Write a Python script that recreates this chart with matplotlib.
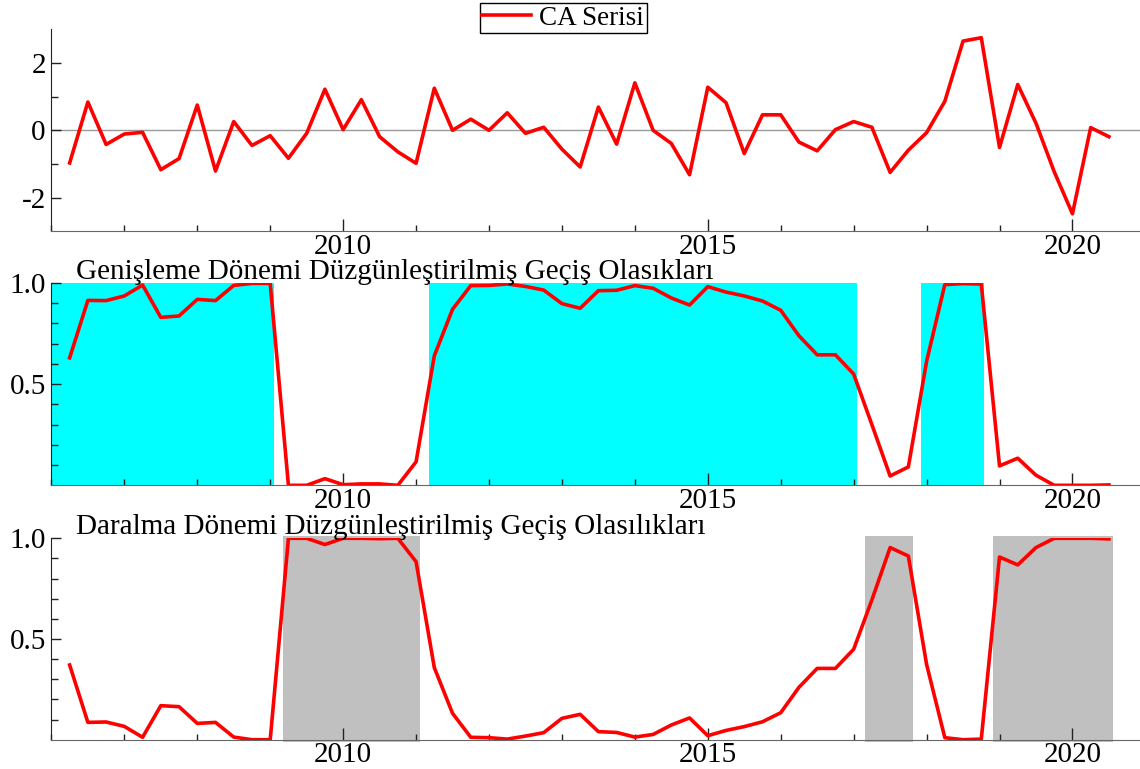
import numpy as np
import matplotlib
matplotlib.use("Agg")
import matplotlib.pyplot as plt
from matplotlib.ticker import MultipleLocator, FixedLocator

plt.rcParams['font.family'] = ['Liberation Serif', 'DejaVu Serif']
plt.rcParams['axes.unicode_minus'] = False

# quarterly dates 2006Q2 .. 2020Q3
dates = 2006.25 + 0.25 * np.arange(58)

ca_series = [-0.97, 0.84, -0.42, -0.11, -0.06, -1.17, -0.84, 0.75, -1.21, 0.26,
             -0.45, -0.16, -0.83, -0.09, 1.22, 0.02, 0.91, -0.19, -0.64, -0.98,
             1.25, 0.00, 0.33, 0.00, 0.52, -0.09, 0.09, -0.56, -1.09, 0.69,
             -0.41, 1.41, 0.00, -0.39, -1.32, 1.28, 0.82, -0.69, 0.46, 0.46,
             -0.35, -0.61, 0.02, 0.26, 0.09, -1.25, -0.59, -0.07, 0.86, 2.65,
             2.75, -0.51, 1.36, 0.21, -1.23, -2.48, 0.08, -0.19]

prob_expansion = [0.63, 0.914, 0.913, 0.936, 0.99, 0.83, 0.837, 0.919, 0.913, 0.988,
                  0.998, 0.998, 0.0, 0.0, 0.033, 0.003, 0.007, 0.007, 0.0, 0.116,
                  0.64, 0.87, 0.987, 0.988, 0.995, 0.983, 0.965, 0.898, 0.875, 0.962,
                  0.964, 0.987, 0.974, 0.926, 0.891, 0.982, 0.955, 0.936, 0.911, 0.865,
                  0.739, 0.645, 0.645, 0.55, 0.30, 0.046, 0.091, 0.612, 0.992, 0.997,
                  0.995, 0.096, 0.134, 0.05, 0.0, 0.0, 0.0, 0.002]

prob_contraction = [0.371, 0.086, 0.088, 0.066, 0.012, 0.169, 0.164, 0.081, 0.086, 0.013,
                    0.0, 0.0, 1.0, 1.0, 0.969, 1.0, 1.0, 0.998, 1.0, 0.884,
                    0.358, 0.131, 0.012, 0.010, 0.003, 0.018, 0.035, 0.106, 0.126, 0.04,
                    0.036, 0.013, 0.026, 0.073, 0.108, 0.02, 0.046, 0.065, 0.089, 0.134,
                    0.26, 0.354, 0.354, 0.449, 0.694, 0.954, 0.912, 0.374, 0.01, 0.0,
                    0.003, 0.907, 0.868, 0.954, 1.0, 1.0, 1.0, 0.997]

expansion_spans = [(2006.0, 2009.05), (2011.18, 2017.04), (2017.92, 2018.79)]
contraction_spans = [(2009.17, 2011.06), (2017.16, 2017.81), (2018.91, 2020.55)]

title_exp = "Genişleme Dönemi Düzgünleştirilmiş Geçiş Olasıkları"
title_con = "Daralma Dönemi Düzgünleştirilmiş Geçiş Olasılıkları"

fig = plt.figure(figsize=(11.4, 7.69), dpi=100)
left, width = 0.0451, 0.9545
ax1 = fig.add_axes([left, 0.6992, width, 0.2627])
ax2 = fig.add_axes([left, 0.3689, width, 0.2631])
ax3 = fig.add_axes([left, 0.0381, width, 0.2619])


def style(ax):
    ax.set_xlim(2006.0, 2020.92)
    ax.spines['top'].set_visible(False)
    ax.spines['right'].set_visible(False)
    ax.spines['left'].set_color('#222222')
    ax.spines['bottom'].set_color('#666666')
    ax.xaxis.set_major_locator(MultipleLocator(5))
    ax.xaxis.set_minor_locator(MultipleLocator(1))
    ax.tick_params(which='both', direction='in', labelsize=21, color='#222222', width=1)
    ax.tick_params(axis='x', which='major', length=9, pad=2)
    ax.tick_params(axis='x', which='minor', length=4.5)
    ax.tick_params(axis='y', which='major', length=7, pad=4)
    ax.tick_params(axis='y', which='minor', length=5)
    ax.xaxis.set_major_formatter(plt.FuncFormatter(lambda v, p: f"{v:.0f}"))


# top panel
style(ax1)
ax1.axhline(0, color='#999999', lw=1, zorder=1)
ax1.plot(dates, ca_series, color='#ff0000', lw=2.6, label='CA Serisi', zorder=3)
ax1.set_ylim(-3, 3)
ax1.yaxis.set_major_locator(FixedLocator([-2, 0, 2]))
ax1.yaxis.set_minor_locator(FixedLocator([-1, 1]))
ax1.legend(loc='upper center', bbox_to_anchor=(0.494, 0.996), bbox_transform=fig.transFigure,
           fontsize=19.5, frameon=True, fancybox=False, edgecolor='black', framealpha=1,
           handlelength=1.8, handletextpad=0.3, borderpad=0.1, borderaxespad=0)
ax1.get_legend().get_frame().set_linewidth(1)

# expansion panel
style(ax2)
for a, b in expansion_spans:
    ax2.axvspan(a, b, ymin=0, ymax=1, color='#00ffff', lw=0, zorder=0)
ax2.plot(dates, prob_expansion, color='#ff0000', lw=2.6, zorder=3)
ax2.set_ylim(0, 1)

# contraction panel
style(ax3)
for a, b in contraction_spans:
    ax3.axvspan(a, b, ymin=-0.01, ymax=1.012, color='#c0c0c0', lw=0, zorder=0, clip_on=False)
ax3.plot(dates, prob_contraction, color='#ff0000', lw=2.6, zorder=3)
ax3.set_ylim(0, 1)

for ax, t in [(ax2, title_exp), (ax3, title_con)]:
    ax.yaxis.set_major_locator(FixedLocator([0.5, 1.0]))
    ax.yaxis.set_minor_locator(FixedLocator([0.1, 0.2, 0.3, 0.4, 0.6, 0.7, 0.8, 0.9]))
    ax.yaxis.set_major_formatter(plt.FuncFormatter(lambda v, p: f"{v:.1f}"))
    ax.text(0.0226, 1.022, t, transform=ax.transAxes, fontsize=21, va='baseline', ha='left')

fig.savefig("out.png", dpi=100)
